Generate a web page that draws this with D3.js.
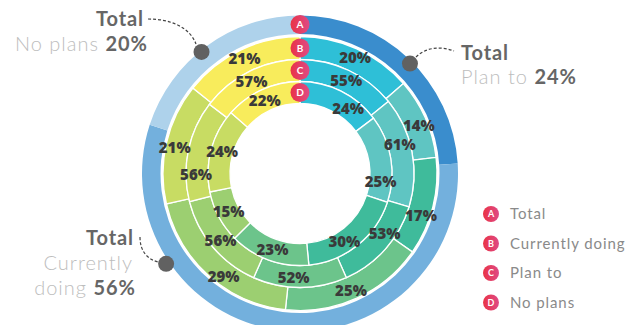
<!DOCTYPE html>
<html>
<head>
<meta charset="utf-8">
<script src="https://cdn.jsdelivr.net/npm/d3@7/dist/d3.min.js"></script>
<style>
  html, body { margin: 0; padding: 0; background: #fff; }
  svg { display: block; }
  text { font-family: Lato, "Open Sans", sans-serif; }
</style>
</head>
<body>
<div id="chart"></div>
<script>
// Groups, listed clockwise from 12 o'clock
const groups = ["g1", "g2", "g3", "g4", "g5", "g6", "g7"];
const groupColors = ["#2ebfd7", "#5fc5c2", "#3fbb9b", "#6cc48b", "#9ccf71", "#c8dc63", "#f8ec5c"];

// Share per group for each ring
const currentlyDoing = [20, 14, 17, 25, 29, 21, 21];
const planTo         = [55, 61, 53, 52, 56, 56, 57];
const noPlans        = [24, 25, 30, 23, 15, 24, 22];

// Overall totals (outer ring)
const totalLabels = ["Plan to", "Currently doing", "No plans"];
const totalValues = [24, 56, 20];
const totalColors = ["#3a8dcd", "#73b0dd", "#aed2eb"];

// Legend
const legendKeys   = ["A", "B", "C", "D"];
const legendLabels = ["Total", "Currently doing", "Plan to", "No plans"];

const W = 644, H = 325;
const cx = 300, cy = 173.5;

const svg = d3.select("#chart").append("svg")
  .attr("width", W).attr("height", H);

const defs = svg.append("defs");
const grad = defs.append("linearGradient").attr("id", "badge")
  .attr("x1", "0%").attr("x2", "100%").attr("y1", "0%").attr("y2", "0%");
grad.append("stop").attr("offset", "0%").attr("stop-color", "#ea3346");
grad.append("stop").attr("offset", "100%").attr("stop-color", "#de4a86");

const g = svg.append("g").attr("transform", `translate(${cx},${cy})`);
const sliceLayer = g.append("g");
const labelLayer = g.append("g");
const badgeLayer = g.append("g");

const pie = d3.pie().sort(null).value(d => d).startAngle(0).endAngle(2 * Math.PI);

// Outer total ring
const outerArc = d3.arc().innerRadius(139.5).outerRadius(158);
sliceLayer.append("g").selectAll("path")
  .data(pie(totalValues))
  .join("path")
  .attr("d", outerArc)
  .attr("fill", (d, i) => totalColors[i]);

// Inner rings; labelNudge rotates a label (degrees) off its slice centre
// so that neighbouring labels keep clear of each other
const rings = [
  { key: "B", values: currentlyDoing, r0: 114, r1: 137, labelR: 128,
    labelNudge: [1, 2, 5, 1, -5, -1, 0] },
  { key: "C", values: planTo,         r0: 92,  r1: 114, labelR: 104,
    labelNudge: [1, -5, -6, 3.5, 0, -12, -1.5] },
  { key: "D", values: noPlans,        r0: 70,  r1: 92,  labelR: 81,
    labelNudge: [10, 15, 5.5, 0, 0, 1, -1.5] }
];

rings.forEach(ring => {
  const arc = d3.arc().innerRadius(ring.r0).outerRadius(ring.r1);
  const slices = pie(ring.values);
  sliceLayer.append("g").selectAll("path")
    .data(slices)
    .join("path")
    .attr("d", arc)
    .attr("fill", (d, i) => groupColors[i])
    .attr("stroke", "#fff")
    .attr("stroke-width", 1.3);
  labelLayer.append("g").selectAll("text")
    .data(slices)
    .join("text")
    .attr("transform", (d, i) => {
      const a = (d.startAngle + d.endAngle) / 2 + ring.labelNudge[i] * Math.PI / 180;
      return `translate(${ring.labelR * Math.sin(a)},${-ring.labelR * Math.cos(a)})`;
    })
    .attr("text-anchor", "middle")
    .attr("dy", "0.36em")
    .style("font-family", "'Open Sans', 'DejaVu Sans', sans-serif")
    .style("font-weight", "800")
    .style("font-size", "15px")
    .attr("fill", "#3a3a3a")
    .text(d => d.data + "%");
});

// Ring badges at 12 o'clock
const badgeRadii = [149, 125.5, 103, 81];
const badges = badgeLayer.selectAll("g")
  .data(legendKeys)
  .join("g")
  .attr("transform", (d, i) => `translate(0,${-badgeRadii[i]})`);
badges.append("circle").attr("r", 9.5).attr("fill", "url(#badge)");
badges.append("text")
  .attr("text-anchor", "middle").attr("dy", "0.36em")
  .style("font-size", "10px").style("font-weight", "bold")
  .attr("fill", "#fff").text(d => d);

// Callouts for the outer totals
const toRad = a => a * Math.PI / 180;
const callouts = [
  { idx: 2, angle: 321, r: 156.5, path: "M148,19 C172,19 190,28 196,44",
    title: { x: 144, y: 26, anchor: "end" },
    lines: [{ x: 148, y: 51, parts: [[totalLabels[2] + " ", false], [totalValues[2] + "%", true]] }] },
  { idx: 0, angle: 45, r: 155.5, path: "M416,57 C426,47 441,46 454,51",
    title: { x: 461, y: 60, anchor: "start" },
    lines: [{ x: 461, y: 84, parts: [[totalLabels[0] + " ", false], [totalValues[0] + "%", true]] }] },
  { idx: 1, angle: 236, r: 161.5, path: "M140,237 C140,251 147,259 158,262",
    title: { x: 134, y: 245, anchor: "end" },
    lines: [{ x: 133, y: 270, parts: [["Currently", false]] },
            { x: 136, y: 295, parts: [["doing ", false], [totalValues[1] + "%", true]] }] }
];

callouts.forEach(c => {
  svg.append("path").attr("d", c.path)
    .attr("fill", "none").attr("stroke", "#444")
    .attr("stroke-width", 1.2).attr("stroke-dasharray", "3,2");
  const a = toRad(c.angle);
  svg.append("circle")
    .attr("cx", cx + c.r * Math.sin(a))
    .attr("cy", cy - c.r * Math.cos(a))
    .attr("r", 8).attr("fill", "#616161");
  svg.append("text")
    .attr("x", c.title.x).attr("y", c.title.y)
    .attr("text-anchor", c.title.anchor)
    .style("font-size", "20px").style("font-weight", "bold")
    .style("letter-spacing", "0.9px")
    .attr("fill", "#666").text("Total");
  c.lines.forEach(l => {
    const t = svg.append("text")
      .attr("x", l.x).attr("y", l.y)
      .attr("text-anchor", c.title.anchor)
      .style("font-size", "20px")
      .style("letter-spacing", "1px");
    l.parts.forEach(([s, bold]) => {
      t.append("tspan")
        .style("font-weight", bold ? "bold" : "300")
        .attr("fill", bold ? "#666" : "#bdbdbd")
        .text(s);
    });
  });
});

// Legend
const legend = svg.append("g").selectAll("g")
  .data(legendKeys)
  .join("g")
  .attr("transform", (d, i) => `translate(491,${214 + i * 29.5})`);
legend.append("circle").attr("r", 8).attr("fill", "url(#badge)");
legend.append("text")
  .attr("text-anchor", "middle").attr("dy", "0.36em")
  .style("font-size", "9px").style("font-weight", "bold")
  .attr("fill", "#fff").text(d => d);
legend.append("text")
  .attr("x", 19).attr("dy", "0.36em")
  .style("font-size", "15px")
  .style("letter-spacing", "0.9px")
  .attr("fill", "#8a8a8a")
  .text((d, i) => legendLabels[i]);
</script>
</body>
</html>
